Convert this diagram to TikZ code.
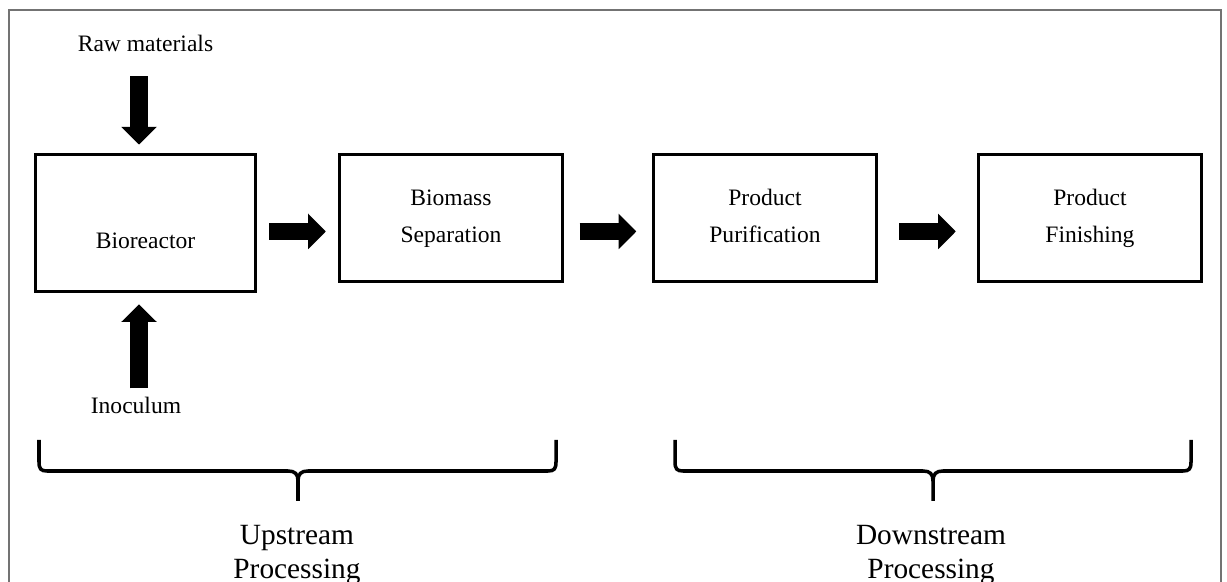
\documentclass[tikz,border=0pt]{standalone}
\usepackage{fontspec}
\setmainfont{Liberation Serif}
\usetikzlibrary{arrows.meta,positioning}
\tikzset{
  pbox/.style={draw, line width=1.7pt, minimum width=4.46cm, minimum height=2.54cm,
      align=center, text depth=0.1cm, font=\fontsize{13.4}{21}\selectfont},
  lbl/.style={font=\fontsize{13.4}{16}\selectfont},
  grp/.style={align=center, font=\fontsize{16.7}{19}\selectfont},
  blk/.style={line width=0.35cm, -{Triangle[length=0.35cm, width=0.71cm, line width=0pt]}},
  brc/.style={line width=2pt},
  frm/.style={draw=black!55, line width=0.6pt},
}
% left end, middle, right end of a stage brace
\newcommand{\stagebrace}[3]{%
  \draw[brc] (#1,2.84) -- (#1,2.40) .. controls (#1,2.26) and ({#1+0.04},2.22) .. ({#1+0.16},2.22)
    -- ({#2-0.2},2.22) .. controls ({#2-0.06},2.22) and (#2,2.16) .. (#2,2.02) -- (#2,1.62);
  \draw[brc] (#3,2.84) -- (#3,2.40) .. controls (#3,2.26) and ({#3-0.04},2.22) .. ({#3-0.16},2.22)
    -- ({#2+0.2},2.22) .. controls ({#2+0.06},2.22) and (#2,2.16) .. (#2,2.02);}

\begin{document}
\begin{tikzpicture}
\useasboundingbox (0,0) rectangle (24.54,11.64);
\draw[frm] (0.18,-0.5) rectangle (24.42,11.44);
%---- the process boxes
\node[pbox, minimum width=4.40cm, minimum height=2.74cm, text height=1.02cm, text depth=0pt]
  (bio) at (2.91,7.17) {Bioreactor};
\node[pbox, right=1.62cm of bio.north east, anchor=north west] (bms) {Biomass\\Separation};
\node[pbox, right=1.76cm of bms] (pur) {Product\\Purification};
\node[pbox, right=1.98cm of pur] (fin) {Product\\Finishing};
%---- feeds and flow
\node[lbl, anchor=base] (raw) at (2.91,10.60) {Raw materials};
\node[lbl, anchor=base] (ino) at (2.72,3.36) {Inoculum};
\coordinate (feed) at (2.78,0);
\coordinate (flow) at (0,7.01);
\draw[blk, shorten <=0.36cm, shorten >=0.18cm] (raw.south -| feed) -- (bio.north -| feed);
\draw[blk, shorten <=0.06cm, shorten >=0.22cm] (ino.north -| feed) -- (bio.south -| feed);
\foreach \a/\b/\s in {bio/bms/0.245cm, bms/pur/0.315cm, pur/fin/0.425cm}
  \draw[blk, shorten <=\s, shorten >=\s] (\a.east |- flow) -- (\b.west |- flow);
%---- the stages
\stagebrace{0.78}{5.96}{11.12}
\stagebrace{13.5}{18.66}{23.82}
\node[grp] (ups) at (5.94,0.54) {Upstream\\Processing};
\node[grp] (dns) at (18.62,0.54) {Downstream\\Processing};
\end{tikzpicture}
\end{document}
